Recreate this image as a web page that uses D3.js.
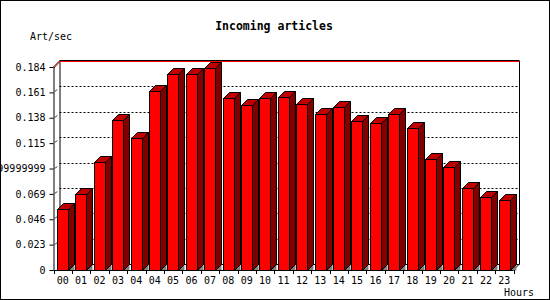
<!DOCTYPE html>
<html><head><meta charset="utf-8">
<script src="https://cdn.jsdelivr.net/npm/d3@7"></script>
<style>body{margin:0;background:#fff}svg{display:block}text{font-family:"DejaVu Sans Mono",monospace}</style>
</head><body>
<svg id="c" width="550" height="300"></svg>
<script>
const categories = ["00","01","02","03","04","04","05","06","07","08","09","10","11","12","13","14","15","16","17","18","19","20","21","22","23"];
const values = [0.0553,0.0686,0.0979,0.1360,0.1194,0.1622,0.1774,0.1774,0.1828,0.1556,0.1493,0.1556,0.1565,0.1502,0.1411,0.1475,0.1348,0.1330,0.1411,0.1284,0.1003,0.0931,0.0741,0.0659,0.0632];
const yTickValues = [0,0.023,0.046,0.069,0.092,0.115,0.138,0.161,0.184];
const yTickLabels = ["0","0.023","0.046","0.069","0.09199999999","0.115","0.138","0.161","0.184"];
const title = "Incoming articles";
const yTitle = "Art/sec";
const xTitle = "Hours";

const svg = d3.select("#c");
const D = 6; // 3D depth
const x = d3.scaleBand().domain(d3.range(categories.length)).range([53.5, 513.5]).padding(0);
const y = d3.scaleLinear().domain([0, 0.184]).range([270, 67]);
const xL = x.range()[0], xR = x.range()[1];
const yB = y(0), yT = y(0.184);

svg.append("rect").attr("x",0.5).attr("y",0.5).attr("width",549).attr("height",299)
  .attr("fill","#fff").attr("stroke","#000");

// back wall gridlines
svg.append("g").selectAll("line").data(yTickValues.slice(1,-1)).join("line")
  .attr("x1", xL+D).attr("x2", xR+D)
  .attr("y1", d => Math.round(y(d)-D)+0.5).attr("y2", d => Math.round(y(d)-D)+0.5)
  .attr("stroke","#000").attr("stroke-dasharray","2,2");
// small diagonal stubs on left floor/wall gap
svg.append("g").selectAll("line").data(yTickValues.slice(1,-1)).join("line")
  .attr("x1", xL+1.5).attr("x2", xL+3.5)
  .attr("y1", d => Math.round(y(d))-0.5).attr("y2", d => Math.round(y(d))-2.5)
  .attr("stroke","#000");

// back wall frame
const g = svg.append("g").attr("fill","none").attr("stroke","#000");
g.append("line").attr("x1",xL+D+0.5).attr("x2",xL+D+0.5).attr("y1",yT-D).attr("y2",yB-D);
g.append("line").attr("x1",xR+D).attr("x2",xR+D).attr("y1",yT-D).attr("y2",yB-D);
g.append("line").attr("x1",xL+D).attr("x2",xR+D).attr("y1",yB-D+0.5).attr("y2",yB-D+0.5);
g.append("line").attr("x1",xR).attr("x2",xR+D).attr("y1",yB).attr("y2",yB-D);
g.append("line").attr("x1",xL+D).attr("x2",xR+D).attr("y1",yT-D-0.5).attr("y2",yT-D-0.5);
svg.append("line").attr("x1",xL+D).attr("x2",xR+D).attr("y1",yT-D+0.5).attr("y2",yT-D+0.5).attr("stroke","#f00");
g.append("line").attr("x1",xL).attr("x2",xL+D+0.5).attr("y1",yT).attr("y2",yT-D-0.5);
svg.append("line").attr("x1",xL+0.5).attr("x2",xL+D+0.5).attr("y1",yT+1).attr("y2",yT-D+0.5).attr("stroke","#f00");

// bars
const bw = 11;
const bars = svg.append("g").attr("stroke","#000").attr("stroke-linejoin","miter");
values.forEach((v,i) => {
  const x0 = Math.round(x(i) + (x.bandwidth()-bw)/2 - 0.3) + 0.5;
  const x1 = x0 + bw;
  const yt = Math.round(y(v)) + 0.5;
  const yb = yB + 0.5;
  const bg = bars.append("g");
  bg.append("polygon").attr("points",`${x1},${yb} ${x1+D},${yb-D} ${x1+D},${yb}`).attr("fill","#808080").attr("stroke","none");
  bg.append("polygon").attr("points",`${x1},${yt} ${x1+D},${yt-D} ${x1+D},${yb-D} ${x1},${yb}`).attr("fill","#800000");
  bg.append("polygon").attr("points",`${x0},${yt} ${x0+D},${yt-D} ${x1+D},${yt-D} ${x1},${yt}`).attr("fill","#c00000");
  bg.append("rect").attr("x",x0).attr("y",yt).attr("width",bw).attr("height",yb-yt).attr("fill","#ff0000");
});

// y axis
const yAxis = d3.axisLeft(y).tickValues(yTickValues).tickFormat((d,i)=>yTickLabels[i]).tickSize(4).tickPadding(4).tickSizeOuter(0);
const ya = svg.append("g").attr("transform",`translate(${xL},0)`).call(yAxis);
ya.select(".domain").attr("d",`M0.5,${yT}V${yB+0.5}`).attr("stroke","#000");
ya.selectAll(".tick line").attr("stroke","#000");
ya.selectAll(".tick text").attr("font-family","DejaVu Sans Mono").attr("font-size","10px").attr("fill","#000");

// x axis
svg.append("line").attr("x1",xL).attr("x2",xR).attr("y1",yB+0.5).attr("y2",yB+0.5).attr("stroke","#000");
svg.append("g").selectAll("line").data(d3.range(categories.length+1)).join("line")
  .attr("x1", i => Math.round(xL + i*x.step())+0.5).attr("x2", i => Math.round(xL + i*x.step())+0.5)
  .attr("y1", yB).attr("y2", yB+4).attr("stroke","#000");
const xAxis = d3.axisBottom(x).tickFormat(i=>categories[i]).tickSize(0).tickPadding(7);
const xa = svg.append("g").attr("transform",`translate(0,${yB})`).call(xAxis);
xa.select(".domain").remove();
xa.selectAll(".tick text").attr("font-family","DejaVu Sans Mono").attr("font-size","10px").attr("fill","#000");

// titles
svg.append("text").attr("x",274).attr("y",30).attr("text-anchor","middle")
  .attr("font-size","11.5px").attr("font-weight","bold").text(title);
svg.append("text").attr("x",30).attr("y",40).attr("font-size","10px").text(yTitle);
svg.append("text").attr("x",504).attr("y",296).attr("font-size","10px").text(xTitle);
</script>
</body></html>
